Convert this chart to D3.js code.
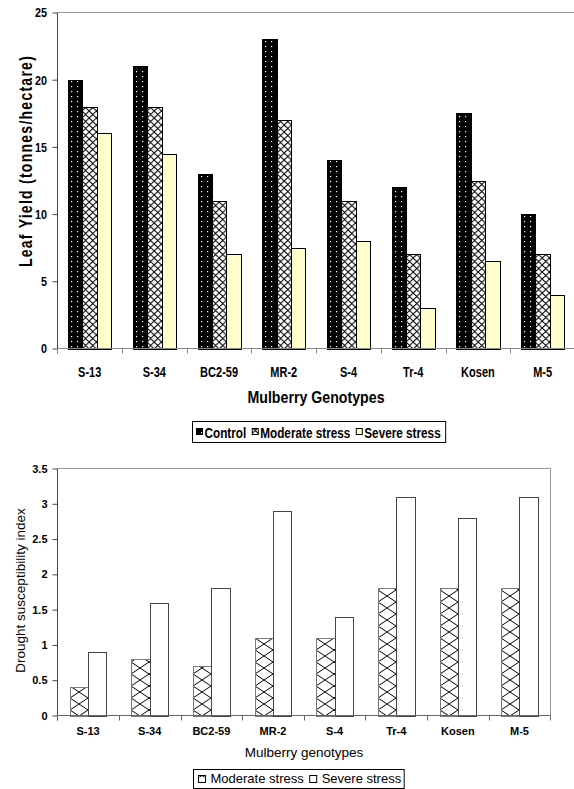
<!DOCTYPE html>
<html><head><meta charset="utf-8">
<script src="https://cdn.jsdelivr.net/npm/d3@7"></script>
<style>body{margin:0;background:#fff} svg{display:block}</style>
</head><body>
<svg id="c" width="574" height="789"></svg>
<script>
// ---- data ----
const genotypes = ["S-13","S-34","BC2-59","MR-2","S-4","Tr-4","Kosen","M-5"];
const yieldControl  = [20, 21, 13, 23, 14, 12, 17.5, 10];
const yieldModerate = [18, 18, 11, 17, 11, 7, 12.5, 7];
const yieldSevere   = [16, 14.5, 7, 7.5, 8, 3, 6.5, 4];
const yieldTicks = [0, 5, 10, 15, 20, 25];
const topSeries = ["Control", "Moderate stress", "Severe stress"];

const dsiModerate = [0.4, 0.8, 0.7, 1.1, 1.1, 1.8, 1.8, 1.8];
const dsiSevere   = [0.9, 1.6, 1.8, 2.9, 1.4, 3.1, 2.8, 3.1];
const dsiTicks = [0, 0.5, 1, 1.5, 2, 2.5, 3, 3.5];
const bottomSeries = ["Moderate stress", "Severe stress"];

const topTitleY = "Leaf Yield (tonnes/hectare)";
const topTitleX = "Mulberry Genotypes";
const botTitleY = "Drought susceptibility index";
const botTitleX = "Mulberry genotypes";

// ---- setup ----
const svg = d3.select("#c");
const defs = svg.append("defs");
const SANS = "'Liberation Sans',Arial,sans-serif";

// condensed text helper
function cText(parent, x, y, str, size, sx, anchor, weight) {
  return parent.append("text")
    .attr("transform", `translate(${x},${y}) scale(${sx},1)`)
    .attr("text-anchor", anchor || "start")
    .attr("font-family", SANS).attr("font-weight", weight || "bold")
    .attr("font-size", size).text(str);
}

// ---------------- TOP CHART ----------------
const T = {left: 57.5, right: 575, top: 12.5, bottom: 348.5};
const x0T = d3.scaleBand().domain(genotypes).range([57.3, 575]);
const x1T = d3.scaleBand().domain(topSeries).range([0, x0T.bandwidth()]).paddingInner(0).paddingOuter(0.75);
const yT = d3.scaleLinear().domain([0, 25]).range([T.bottom, T.top]);
const bwT = x1T.bandwidth();

// patterns
const pDots = defs.append("pattern").attr("id", "pDots").attr("patternUnits", "userSpaceOnUse")
  .attr("width", 6).attr("height", 5);
pDots.append("rect").attr("width", 6).attr("height", 5).attr("fill", "#000");
pDots.append("rect").attr("x", 3).attr("y", 2).attr("width", 1.2).attr("height", 1.2).attr("fill", "#fff");

const lw = bwT / 2, lh = 7;
const pLat = defs.append("pattern").attr("id", "pLatT").attr("patternUnits", "userSpaceOnUse")
  .attr("width", lw).attr("height", lh);
pLat.append("rect").attr("width", lw).attr("height", lh).attr("fill", "#fff");
pLat.append("path").attr("d", `M${-lw},${-lh}L${2*lw},${2*lh}M${2*lw},${-lh}L${-lw},${2*lh}`)
  .attr("stroke", "#000").attr("stroke-width", 1).attr("fill", "none");

const topFills = {"Control": "url(#pDots)", "Moderate stress": "url(#pLatT)", "Severe stress": "#FFFFCC"};
const topData = genotypes.map((g, i) => ({g, vals: [yieldControl[i], yieldModerate[i], yieldSevere[i]]}));

svg.append("line").attr("x1", T.left).attr("x2", 574).attr("y1", T.top).attr("y2", T.top)
  .attr("stroke", "#999");

const y0T = Math.round(yT(0));
const gBarsT = svg.append("g");
topData.forEach(d => {
  d.vals.forEach((v, k) => {
    const s = topSeries[k];
    const xa = x0T(d.g) + x1T(s);
    const xr = Math.round(xa), w = Math.round(xa + bwT) - xr;
    const h = y0T - Math.round(yT(v));
    const g = gBarsT.append("g").attr("transform", `translate(${xr},${y0T})`);
    g.append("rect").attr("x", 0.5).attr("y", -h + 0.5).attr("width", w).attr("height", h)
      .attr("fill", topFills[s]).attr("stroke", "#000").attr("stroke-width", 1);
  });
});

// y axis
const sxTick = 0.8;
const axLT = svg.append("g").attr("transform", `translate(${T.left},0)`)
  .call(d3.axisLeft(yT).tickValues(yieldTicks).tickSize(5).tickPadding(5).tickFormat(d3.format("d")));
axLT.select(".domain").attr("stroke", "#444").attr("d", `M-0,${T.top}V${T.bottom + 5}`);
axLT.selectAll(".tick line").attr("stroke", "#444");
axLT.selectAll(".tick text").attr("font-family", SANS).attr("font-weight", "bold")
  .attr("font-size", 13.5).attr("fill", "#000")
  .attr("x", -10.5 / sxTick).attr("transform", `scale(${sxTick},1)`);

// x axis
svg.append("line").attr("x1", T.left).attr("x2", 574).attr("y1", T.bottom).attr("y2", T.bottom).attr("stroke", "#888");
const bT = genotypes.map(g => x0T(g)).concat([x0T.range()[1]]);
svg.append("g").selectAll("line").data(bT).join("line")
  .attr("x1", d => Math.round(d) + 0.5).attr("x2", d => Math.round(d) + 0.5)
  .attr("y1", T.bottom).attr("y2", T.bottom + 5).attr("stroke", "#888");
const gxT = svg.append("g");
genotypes.forEach(g => cText(gxT, x0T(g) + x0T.bandwidth() / 2, 376.5, g, 14.5, 0.76, "middle"));

// titles
svg.append("text").attr("transform", "translate(31.5,161) rotate(-90) scale(0.78,1)")
  .attr("text-anchor", "middle").attr("font-family", SANS).attr("font-weight", "bold")
  .attr("font-size", 18).attr("letter-spacing", 1.6).text(topTitleY);
cText(svg, 316, 402.5, topTitleX, 16.5, 0.86, "middle");

// legend top
const legT = svg.append("g");
const legTBox = legT.append("rect").attr("x", 192.5).attr("y", 421.5).attr("height", 21)
  .attr("fill", "#fff").attr("stroke", "#000");
let lx = 196.5;
const sxLeg = 0.84;
topSeries.forEach(s => {
  legT.append("rect").attr("x", lx).attr("y", 428.5).attr("width", 6).attr("height", 6)
    .attr("fill", topFills[s]).attr("stroke", "#000");
  const t = cText(legT, lx + 8, 438, s, 14, sxLeg, "start");
  lx += 8 + t.node().getComputedTextLength() * sxLeg + 6;
});
legTBox.attr("width", lx - 192.5 - 1);

// ---------------- BOTTOM CHART ----------------
const B = {left: 57.5, right: 550.5, top: 468.5, bottom: 715.5};
const x0B = d3.scaleBand().domain(genotypes).range([57.3, 550.3]);
const x1B = d3.scaleBand().domain(bottomSeries).range([0, x0B.bandwidth()]).paddingInner(0).paddingOuter(0.68);
const yB = d3.scaleLinear().domain([0, 3.5]).range([B.bottom, B.top]);
const bwB = x1B.bandwidth();

const dw = Math.round(bwB), dh = 12;
const pDia = defs.append("pattern").attr("id", "pDia").attr("patternUnits", "userSpaceOnUse")
  .attr("width", dw).attr("height", dh);
pDia.append("rect").attr("width", dw).attr("height", dh).attr("fill", "#fff");
pDia.append("path")
  .attr("d", `M0,${dh/2}L${dw/2},0L${dw},${dh/2}L${dw/2},${dh}Z`)
  .attr("stroke", "#000").attr("stroke-width", 1).attr("fill", "none");

const botFills = {"Moderate stress": "url(#pDia)", "Severe stress": "#fff"};
const botStroke = {"Moderate stress": "#7a7a7a", "Severe stress": "#444"};
const botData = genotypes.map((g, i) => ({g, vals: [dsiModerate[i], dsiSevere[i]]}));

svg.append("path").attr("d", `M${B.left},${B.top}H${B.right}V${B.bottom}`)
  .attr("stroke", "#999").attr("fill", "none");

const y0B = Math.round(yB(0));
const gBarsB = svg.append("g");
botData.forEach(d => {
  d.vals.forEach((v, k) => {
    const s = bottomSeries[k];
    const xa = x0B(d.g) + x1B(s);
    const xr = Math.round(xa), w = Math.round(xa + bwB) - xr;
    const h = y0B - Math.round(yB(v));
    const g = gBarsB.append("g").attr("transform", `translate(${xr},${y0B})`);
    g.append("rect").attr("x", 0.5).attr("y", -h + 0.5).attr("width", w).attr("height", h)
      .attr("fill", botFills[s]).attr("stroke", botStroke[s]).attr("stroke-width", 1);
  });
});

const axLB = svg.append("g").attr("transform", `translate(${B.left},0)`)
  .call(d3.axisLeft(yB).tickValues(dsiTicks).tickSize(5).tickPadding(5).tickFormat(d3.format("")));
axLB.select(".domain").attr("stroke", "#444").attr("d", `M-0,${B.top}V${B.bottom + 5}`);
axLB.selectAll(".tick line").attr("stroke", "#444");
axLB.selectAll(".tick text").attr("font-family", SANS).attr("font-weight", "bold")
  .attr("font-size", 11).attr("fill", "#000");

svg.append("line").attr("x1", B.left).attr("x2", B.right).attr("y1", B.bottom).attr("y2", B.bottom).attr("stroke", "#666");
const bB = genotypes.map(g => x0B(g)).concat([x0B.range()[1]]);
svg.append("g").selectAll("line").data(bB).join("line")
  .attr("x1", d => Math.round(d) + 0.5).attr("x2", d => Math.round(d) + 0.5)
  .attr("y1", B.bottom).attr("y2", B.bottom + 5).attr("stroke", "#666");
svg.append("g").selectAll("text").data(genotypes).join("text")
  .attr("x", d => x0B(d) + x0B.bandwidth() / 2).attr("y", 735)
  .attr("text-anchor", "middle").attr("font-family", SANS).attr("font-weight", "bold")
  .attr("font-size", 11).text(d => d);

svg.append("text").attr("transform", "translate(24.5,590.5) rotate(-90)")
  .attr("text-anchor", "middle").attr("font-family", SANS).attr("font-size", 13.5).text(botTitleY);
svg.append("text").attr("x", 304).attr("y", 756.5).attr("text-anchor", "middle")
  .attr("font-family", SANS).attr("font-size", 13.5).text(botTitleX);

const legB = svg.append("g");
const legBBox = legB.append("rect").attr("x", 193.5).attr("y", 769.5).attr("height", 19)
  .attr("fill", "#fff").attr("stroke", "#000");
let bx = 198.5;
bottomSeries.forEach(s => {
  legB.append("rect").attr("x", bx).attr("y", 775.5).attr("width", 7).attr("height", 7)
    .attr("fill", "#fff").attr("stroke", "#000");
  if (s === "Moderate stress") {
    legB.append("path").attr("d", `M${bx+1},${777}L${bx+3.5},${775.5}L${bx+6},${777}`)
      .attr("stroke", "#000").attr("fill", "none");
  }
  const t = legB.append("text").attr("x", bx + 12).attr("y", 782.5).attr("font-family", SANS)
    .attr("font-size", 13).text(s);
  bx += 12 + t.node().getComputedTextLength() + 6;
});
legBBox.attr("width", bx - 193.5 - 3);
</script>
</body></html>
